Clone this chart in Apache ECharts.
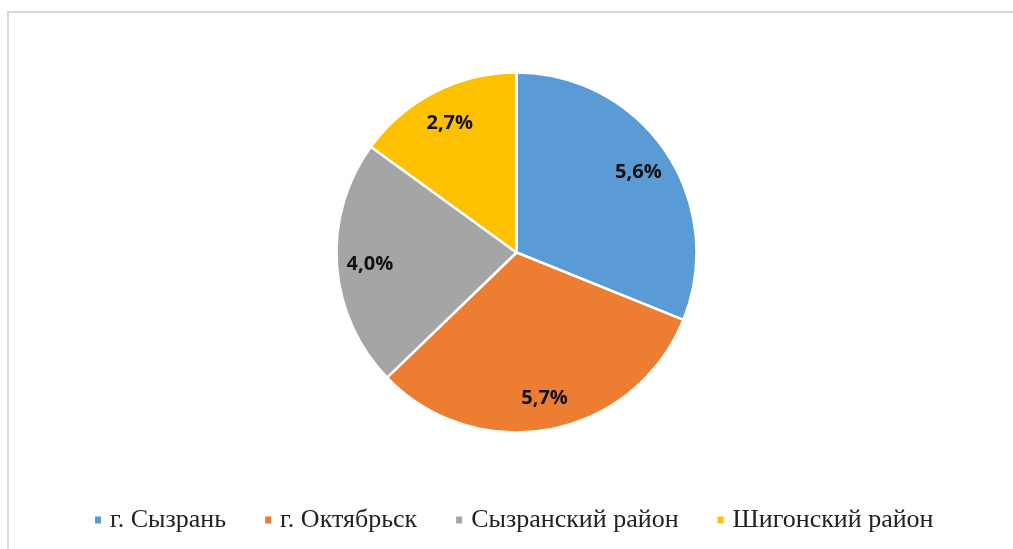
<!DOCTYPE html>
<html>
<head>
<meta charset="utf-8">
<script src="https://cdn.jsdelivr.net/npm/echarts@6/dist/echarts.min.js"></script>
<style>
  html, body { margin: 0; padding: 0; background: #fff; }
  #chart { width: 1013px; height: 549px; }
</style>
</head>
<body>
<div id="chart"></div>
<script>
// districts and their shares
const districts = ['г. Сызрань', 'г. Октябрьск', 'Сызранский район', 'Шигонский район']
const shares = [5.6, 5.7, 4.0, 2.7]
const colors = ['#5B9BD5', '#ED7D31', '#A5A5A5', '#FFC000']

const pieData = districts.map((name, i) => ({ name: name, value: shares[i] }))

const chart = echarts.init(document.getElementById('chart'))

chart.setOption({
  animation: false,
  color: colors,
  graphic: [{
    type: 'rect',
    silent: true,
    shape: { x: 8, y: 12, width: 1030, height: 560 },
    style: { fill: 'none', stroke: '#d9d9d9', lineWidth: 2 }
  }],
  legend: {
    left: 88,
    top: 502,
    icon: 'rect',
    itemWidth: 8,
    itemHeight: 9,
    itemGap: 37,
    textStyle: {
      fontFamily: '"Liberation Serif", "Times New Roman", serif',
      fontSize: 26,
      color: '#222',
      padding: [0, 0, 0, 3]
    },
    data: districts
  },
  series: [
    {
      type: 'pie',
      center: [516.5, 252.5],
      radius: [0, 180],
      startAngle: 90,
      clockwise: true,
      silent: true,
      label: { show: false },
      labelLine: { show: false },
      itemStyle: { borderColor: '#fff', borderWidth: 2.5 },
      data: pieData
    },
    {
      // label layer, sits at ~144px from the centre like the original
      type: 'pie',
      center: [516.5, 254],
      radius: [108, 180],
      startAngle: 90,
      clockwise: true,
      silent: true,
      legendHoverLink: false,
      itemStyle: { color: 'transparent' },
      label: {
        show: true,
        position: 'inside',
        fontFamily: '"Open Sans", "Noto Sans", sans-serif',
        fontWeight: 'bold',
        fontSize: 20,
        color: '#111',
        formatter: p => p.value.toFixed(1).replace('.', ',') + '%'
      },
      labelLine: { show: false },
      data: pieData
    }
  ]
})
</script>
</body>
</html>
